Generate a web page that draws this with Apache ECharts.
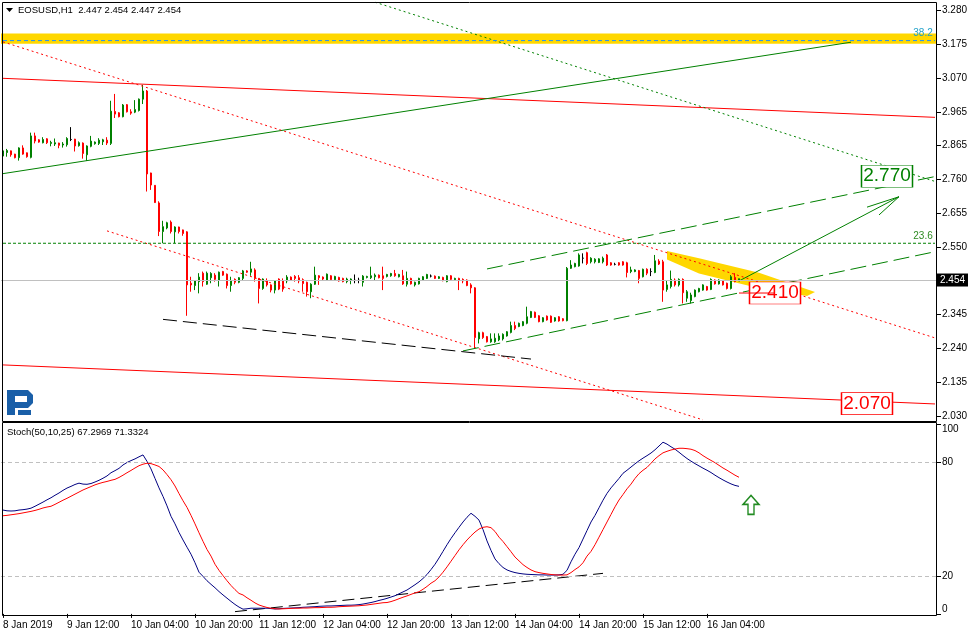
<!DOCTYPE html>
<html><head><meta charset="utf-8">
<script src="https://cdn.jsdelivr.net/npm/echarts@6/dist/echarts.min.js"></script>
<style>html,body{margin:0;padding:0;background:#fff}#c{width:975px;height:636px}</style>
</head><body><div id="c"></div>
<script>
// ---------- DATA ----------
const titleText = 'EOSUSD,H1  2.447 2.454 2.447 2.454';
const stochTitle = 'Stoch(50,10,25) 67.2969 71.3324';
const slotCount = 234;            // hourly slots incl. empty future space
const startHourUTC = Date.UTC(2019, 0, 8, 20);
const xTickEvery = 16;
const xTickLabels = ['8 Jan 2019','9 Jan 12:00','10 Jan 04:00','10 Jan 20:00','11 Jan 12:00','12 Jan 04:00',
  '12 Jan 20:00','13 Jan 12:00','14 Jan 04:00','14 Jan 20:00','15 Jan 12:00','16 Jan 04:00'];
const priceTicks = [3.280,3.175,3.070,2.965,2.865,2.760,2.655,2.550,2.345,2.240,2.135,2.030];
const stochTicks = [0,20,80,100];
const stochLevels = [80,20];
const currentPrice = 2.454;

// [open, high, low, close]
const ohlc = [
[2.831,2.850,2.829,2.847],[2.842,2.853,2.829,2.848],[2.847,2.848,2.829,2.835],[2.837,2.838,2.824,2.826],[2.826,2.858,2.817,2.856],
[2.856,2.864,2.835,2.837],[2.841,2.842,2.826,2.829],[2.827,2.903,2.824,2.893],[2.893,2.903,2.870,2.877],[2.881,2.883,2.872,2.874],
[2.872,2.889,2.870,2.882],[2.884,2.886,2.868,2.872],[2.870,2.878,2.861,2.873],[2.868,2.885,2.862,2.872],[2.871,2.872,2.855,2.864],
[2.865,2.874,2.857,2.868],[2.866,2.889,2.860,2.885],[2.882,2.920,2.877,2.882],[2.883,2.884,2.845,2.862],[2.863,2.876,2.860,2.872],
[2.871,2.873,2.823,2.839],[2.835,2.864,2.816,2.862],[2.861,2.893,2.858,2.877],[2.869,2.876,2.866,2.874],[2.870,2.886,2.865,2.880],
[2.875,2.884,2.865,2.881],[2.880,2.889,2.865,2.871],[2.870,3.001,2.865,2.969],[2.968,3.022,2.948,2.960],[2.964,2.966,2.950,2.952],
[2.952,2.991,2.950,2.988],[2.989,2.991,2.965,2.967],[2.967,2.975,2.958,2.963],[2.966,3.003,2.963,2.974],[2.971,3.008,2.968,3.006],
[3.006,3.050,2.991,3.031],[3.031,3.034,2.722,2.776],[2.779,2.780,2.727,2.742],[2.741,2.742,2.687,2.688],[2.687,2.692,2.585,2.599],
[2.599,2.632,2.563,2.614],[2.610,2.629,2.606,2.626],[2.628,2.633,2.593,2.599],[2.598,2.615,2.563,2.613],[2.613,2.614,2.593,2.599],
[2.604,2.605,2.586,2.593],[2.598,2.600,2.340,2.435],[2.440,2.460,2.414,2.435],[2.433,2.449,2.419,2.447],[2.445,2.471,2.409,2.459],
[2.471,2.476,2.430,2.445],[2.437,2.476,2.435,2.471],[2.457,2.474,2.440,2.470],[2.465,2.471,2.445,2.452],[2.450,2.476,2.430,2.474],
[2.476,2.478,2.463,2.465],[2.468,2.470,2.424,2.433],[2.433,2.460,2.414,2.447],[2.452,2.455,2.437,2.443],[2.443,2.459,2.440,2.457],
[2.455,2.481,2.450,2.478],[2.478,2.480,2.472,2.474],[2.474,2.506,2.463,2.484],[2.481,2.486,2.445,2.455],[2.455,2.456,2.378,2.424],
[2.424,2.455,2.420,2.453],[2.447,2.455,2.430,2.435],[2.435,2.437,2.412,2.419],[2.419,2.450,2.409,2.447],[2.453,2.455,2.419,2.422],
[2.447,2.455,2.414,2.422],[2.447,2.465,2.440,2.459],[2.459,2.461,2.447,2.450],[2.461,2.465,2.445,2.455],[2.457,2.465,2.440,2.447],
[2.451,2.455,2.414,2.439],[2.443,2.445,2.399,2.414],[2.414,2.440,2.394,2.437],[2.437,2.491,2.435,2.465],[2.463,2.465,2.435,2.457],
[2.459,2.461,2.450,2.453],[2.450,2.470,2.447,2.468],[2.463,2.465,2.449,2.451],[2.451,2.463,2.449,2.461],[2.458,2.460,2.445,2.447],
[2.455,2.457,2.443,2.445],[2.445,2.457,2.440,2.453],[2.450,2.455,2.437,2.453],[2.449,2.467,2.440,2.449],[2.449,2.457,2.440,2.449],
[2.443,2.465,2.430,2.462],[2.458,2.463,2.455,2.461],[2.457,2.491,2.453,2.463],[2.460,2.470,2.447,2.465],[2.465,2.467,2.455,2.457],
[2.463,2.491,2.419,2.455],[2.461,2.469,2.458,2.467],[2.463,2.472,2.460,2.470],[2.470,2.481,2.460,2.463],[2.460,2.469,2.458,2.467],
[2.463,2.481,2.435,2.438],[2.437,2.476,2.430,2.455],[2.455,2.457,2.436,2.438],[2.435,2.445,2.430,2.443],[2.438,2.457,2.436,2.455],
[2.450,2.462,2.448,2.460],[2.455,2.469,2.453,2.467],[2.462,2.467,2.458,2.462],[2.462,2.464,2.453,2.455],[2.455,2.462,2.453,2.460],
[2.458,2.460,2.446,2.448],[2.445,2.465,2.443,2.463],[2.463,2.465,2.450,2.452],[2.451,2.457,2.449,2.455],[2.455,2.457,2.419,2.448],
[2.452,2.455,2.440,2.447],[2.450,2.452,2.431,2.433],[2.435,2.440,2.409,2.426],[2.426,2.428,2.240,2.273],[2.269,2.291,2.255,2.288],
[2.288,2.291,2.269,2.273],[2.276,2.278,2.258,2.260],[2.260,2.286,2.257,2.269],[2.260,2.286,2.257,2.271],[2.266,2.286,2.262,2.278],
[2.269,2.286,2.264,2.283],[2.278,2.293,2.276,2.291],[2.289,2.322,2.286,2.310],[2.310,2.322,2.296,2.301],[2.307,2.319,2.305,2.317],
[2.310,2.324,2.308,2.322],[2.317,2.368,2.314,2.337],[2.335,2.355,2.333,2.353],[2.351,2.353,2.333,2.335],[2.340,2.342,2.320,2.322],
[2.322,2.336,2.320,2.334],[2.339,2.341,2.325,2.327],[2.339,2.341,2.318,2.320],[2.324,2.336,2.322,2.334],[2.337,2.339,2.322,2.324],
[2.331,2.333,2.323,2.325],[2.325,2.490,2.323,2.486],[2.486,2.511,2.484,2.496],[2.491,2.503,2.489,2.501],[2.493,2.532,2.491,2.527],
[2.517,2.532,2.501,2.517],[2.534,2.537,2.496,2.501],[2.506,2.520,2.501,2.517],[2.506,2.517,2.501,2.514],[2.504,2.517,2.502,2.515],
[2.506,2.522,2.501,2.517],[2.527,2.530,2.493,2.496],[2.503,2.505,2.494,2.496],[2.498,2.503,2.495,2.498],[2.503,2.505,2.494,2.496],
[2.506,2.508,2.494,2.496],[2.503,2.506,2.458,2.473],[2.476,2.491,2.471,2.481],[2.476,2.483,2.474,2.481],[2.479,2.481,2.440,2.455],
[2.460,2.485,2.458,2.483],[2.483,2.486,2.465,2.471],[2.476,2.486,2.462,2.476],[2.473,2.527,2.471,2.509],[2.508,2.514,2.496,2.499],
[2.506,2.512,2.383,2.419],[2.421,2.450,2.414,2.435],[2.430,2.479,2.424,2.452],[2.450,2.455,2.430,2.435],[2.435,2.455,2.430,2.452],
[2.452,2.455,2.378,2.411],[2.394,2.419,2.383,2.414],[2.387,2.411,2.378,2.404],[2.399,2.421,2.397,2.419],[2.414,2.426,2.412,2.424],
[2.419,2.437,2.417,2.435],[2.430,2.432,2.417,2.419],[2.421,2.455,2.419,2.452],[2.450,2.452,2.436,2.438],[2.438,2.452,2.436,2.450],
[2.448,2.450,2.433,2.435],[2.440,2.442,2.421,2.424],[2.424,2.465,2.421,2.460],[2.458,2.471,2.443,2.445],[2.447,2.454,2.447,2.454]
];

const stochMain = [
54.8,54.4,54.3,54.4,54.8,55.0,55.3,55.8,56.8,57.9,
59.0,60.2,61.3,62.6,63.8,65.2,66.4,67.3,68.3,69.0,
68.5,68.4,68.8,69.6,70.5,71.6,72.8,74.5,75.6,76.8,
78.6,79.9,80.9,81.8,82.9,83.9,80.5,76.5,71.5,66.5,
62.0,57.0,51.5,47.5,43.0,39.0,35.2,31.5,27.0,22.0,
19.8,17.5,15.6,13.8,11.8,10.0,8.3,6.6,5.0,3.6,
2.5,2.7,3.0,3.0,3.0,3.0,3.0,2.8,2.6,2.7,
2.9,3.0,3.1,3.2,3.3,3.5,3.6,3.7,3.8,4.0,
4.1,4.2,4.2,4.3,4.4,4.5,4.6,4.6,4.7,4.9,
5.2,5.6,6.0,6.5,7.1,7.6,8.2,8.9,9.6,10.6,
11.6,12.6,14.0,15.4,16.9,18.7,20.8,23.4,26.2,29.5,
33.0,36.5,39.8,42.8,45.7,48.5,51.0,53.1,51.5,49.5,
44.5,38.5,33.5,29.0,26.5,24.5,23.2,22.4,21.8,21.4,
21.1,20.9,20.8,20.7,20.6,20.6,20.5,20.5,20.5,20.6,
20.9,23.0,27.5,31.5,35.0,39.5,44.0,48.5,52.0,56.0,
60.0,63.6,66.5,69.0,71.5,74.2,75.8,77.5,79.2,80.8,
82.2,83.5,84.9,86.6,88.6,90.6,89.6,88.2,86.9,85.3,
83.6,82.0,80.6,79.3,78.1,76.9,75.8,74.6,73.2,71.9,
70.7,69.6,68.6,67.8,67.3];

const stochSignal = [
51.8,52.0,52.3,52.6,52.9,53.3,53.7,54.1,54.6,55.2,
55.9,56.4,56.8,57.8,58.9,60.0,61.0,62.1,63.2,64.3,
65.4,66.3,67.2,68.1,68.8,69.4,69.9,70.5,71.0,72.0,
73.2,74.5,75.7,77.0,78.2,79.0,79.5,79.3,78.6,77.8,
76.0,73.5,70.8,67.5,63.5,59.7,56.2,52.0,47.5,42.8,
38.3,34.0,30.5,26.2,23.0,20.2,17.5,15.0,12.8,10.8,
10.0,8.5,7.2,5.8,4.7,4.0,3.4,3.0,2.7,2.6,
2.7,2.8,2.9,3.0,3.0,3.1,3.1,3.2,3.3,3.3,
3.4,3.5,3.5,3.6,3.8,3.9,4.0,4.1,4.2,4.3,
4.5,4.7,5.0,5.3,5.6,5.9,6.0,6.5,7.2,8.0,
8.8,9.5,10.3,11.1,11.7,13.0,14.5,16.2,17.5,19.5,
22.0,24.8,27.8,30.8,33.8,36.5,39.0,41.2,43.2,44.8,
45.7,46.0,45.5,43.5,40.5,38.2,35.5,32.8,30.0,28.0,
26.0,24.5,23.2,22.3,21.8,21.4,21.1,20.8,20.6,20.5,
20.5,20.6,21.8,23.4,24.8,27.0,30.5,33.0,36.5,40.5,
44.5,48.5,52.5,56.5,60.1,63.0,66.0,68.5,71.5,74.0,
75.8,77.3,79.5,81.8,83.5,85.0,85.8,86.5,87.0,87.4,
87.4,87.2,86.9,86.2,85.0,83.5,82.2,81.0,79.8,78.4,
77.0,75.8,74.5,73.2,72.1];

// drawing objects: [barIndex, price]
const redChannelUpper = [[0,3.070],[233,2.950]];
const redChannelLower = [[0,2.189],[233,2.069]];
const greenTrendUp    = [[0,2.777],[212,3.181]];
const redDottedUpper  = [[0,3.182],[233,2.272]];
const redDottedLower  = [[26,2.601],[175,2.020]];
const greenDotted     = [[93,3.304],[233,2.753]];
const greenDashUpper  = [[121,2.484],[233,2.768]];
const greenDashLower  = [[115,2.232],[233,2.537]];
const blackSupport    = [[40,2.329],[132,2.207]];
const forecastLine    = [[184,2.447],[224,2.706]];
const forecastBarb1   = [[216,2.674],[224,2.706]];
const forecastBarb2   = [[219,2.650],[224,2.706]];
const targetLine      = [[184,2.410],[193,2.410]];
const fibBand = [3.176, 3.208];
const fib382 = 3.186, fib236 = 2.563;
const flagPolygon = [[165.5,2.539],[174.25,2.517],[189.25,2.472],[203,2.413],[200.5,2.401],[189.25,2.425],[174.25,2.470],[166.25,2.513]];
const labels = [
  {text:'2.410', at:[193,2.410], color:'#ff0000'},
  {text:'2.070', at:[216,2.070], color:'#ff0000'},
  {text:'2.770', at:[221,2.769], color:'#008000'}
];
const stochSupport = [[58,1.2],[150,21.4]];
const stochArrowAt = [187,57.5];

// ---------- CHART ----------
const FONT = '"Liberation Sans", Arial, sans-serif';
const categories = [];
for (let i = 0; i < slotCount; i++) {
  const d = new Date(startHourUTC + i * 3600000);
  categories.push(d.getUTCDate() + ' Jan ' + String(d.getUTCHours()).padStart(2,'0') + ':00');
}
const candleData = ohlc.map(r => [r[0], r[3], r[2], r[1]]);

function lineSeries(data, color, type, width, extra) {
  return Object.assign({
    type:'line', xAxisIndex:0, yAxisIndex:0, data:data, symbol:'none', silent:true,
    animation:false, z:4, lineStyle:{color:color, width:width||1, type:type||'solid'}
  }, extra||{});
}

const chart = echarts.init(document.getElementById('c'), null, {renderer:'canvas'});
const isTick = (i) => i % xTickEvery === 0 && (i / xTickEvery) < xTickLabels.length;
const LOGO = '#1a5fa8';

const option = {
  animation:false,
  textStyle:{fontFamily:FONT},
  title:[
    {text:titleText, left:18, top:5, padding:0, textStyle:{fontSize:9.5, fontWeight:'normal', color:'#000', fontFamily:FONT}},
    {text:stochTitle, left:7, top:427, padding:0, textStyle:{fontSize:9.5, fontWeight:'normal', color:'#000', fontFamily:FONT}}
  ],
  graphic:[
    {type:'polygon', shape:{points:[[6,8],[13,8],[9.5,12]]}, style:{fill:'#000'}},
    {type:'rect', shape:{x:7, y:390, width:8, height:25}, style:{fill:LOGO}},
    {type:'polygon', shape:{points:[[15,390],[28,390],[33,395],[33,403],[28,408],[15,408]]}, style:{fill:LOGO}},
    {type:'rect', shape:{x:15, y:396, width:12, height:6}, style:{fill:'#fff'}},
    {type:'rect', shape:{x:18, y:410, width:13, height:5}, style:{fill:LOGO}},
    {type:'rect', z:100, shape:{x:2.5, y:2.5, width:934, height:419}, style:{fill:null, stroke:'#000', lineWidth:1}},
    {type:'rect', z:100, shape:{x:2.5, y:422.5, width:934, height:193}, style:{fill:null, stroke:'#000', lineWidth:1}}
  ],
  grid:[
    {left:1, top:2, width:936, height:419, show:false},
    {left:1, top:423, width:936, height:192, show:false}
  ],
  xAxis:[
    {type:'category', gridIndex:0, data:categories, boundaryGap:true,
     axisLine:{show:false}, axisTick:{show:false}, axisLabel:{show:false}, splitLine:{show:false}},
    {type:'category', gridIndex:1, data:categories, boundaryGap:true,
     axisLine:{show:false},
     axisTick:{show:true, alignWithLabel:true, interval:(i)=>isTick(i), length:4, lineStyle:{color:'#000'}},
     axisLabel:{interval:(i)=>isTick(i), formatter:(v,i)=>xTickLabels[i/xTickEvery] || '', align:'left',
       fontSize:10, color:'#000', margin:5, fontFamily:FONT},
     splitLine:{show:false}}
  ],
  yAxis:[
    {type:'value', gridIndex:0, position:'right', min:2.0166, max:3.3046,
     axisLine:{show:false},
     axisTick:{show:true, customValues:priceTicks, length:4, lineStyle:{color:'#000'}},
     axisLabel:{customValues:priceTicks, formatter:(v)=>Number(v).toFixed(3), fontSize:10, color:'#000', margin:5, fontFamily:FONT},
     splitLine:{show:false}},
    {type:'value', gridIndex:1, position:'right', min:-0.58, max:100.74,
     axisLine:{show:false},
     axisTick:{show:true, customValues:stochTicks, length:4, lineStyle:{color:'#000'}},
     axisLabel:{customValues:stochTicks, fontSize:10, color:'#000', margin:5, fontFamily:FONT,
       formatter:(v)=> v===100 ? '{t|100}' : (v===0 ? '{b|0}' : '{n|'+v+'}'),
       rich:{t:{fontSize:10, padding:[10,0,0,0], fontFamily:FONT}, b:{fontSize:10, padding:[0,0,10,0], fontFamily:FONT}, n:{fontSize:10, fontFamily:FONT}}},
     splitLine:{show:false}}
  ],
  series:[
    { // yellow flag
      type:'custom', xAxisIndex:0, yAxisIndex:0, data:flagPolygon, silent:true, z:1,
      renderItem:(params, api) => {
        if (params.dataIndex !== 0) return null;
        return {type:'polygon', shape:{points:flagPolygon.map(p => api.coord(p))}, style:{fill:'#ffd700'}};
      }
    },
    {
      type:'candlestick', xAxisIndex:0, yAxisIndex:0, data:candleData, barWidth:2, z:3,
      itemStyle:{color:'#008000', color0:'#ff0000', borderColor:'#008000', borderColor0:'#ff0000', borderColorDoji:'#000000', borderWidth:1},
      markArea:{silent:true, itemStyle:{color:'#ffd700', opacity:1}, data:[[{yAxis:fibBand[0]},{yAxis:fibBand[1]}]]},
      markLine:{silent:true, symbol:'none', animation:false,
        lineStyle:{color:'#c0c0c0', type:'solid', width:1},
        label:{show:true, position:'end', distance:0, formatter:currentPrice.toFixed(3), color:'#fff', backgroundColor:'#000',
          padding:[2,3,1,3], fontSize:10, fontFamily:FONT},
        data:[{yAxis:currentPrice}]}
    },
    lineSeries(redChannelUpper, '#ff0000', 'solid', 1),
    lineSeries(redChannelLower, '#ff0000', 'solid', 1),
    lineSeries(greenTrendUp, '#008000', 'solid', 1),
    lineSeries(redDottedUpper, '#ff0000', [2,3], 1),
    lineSeries(redDottedLower, '#ff0000', [2,3], 1),
    lineSeries(greenDotted, '#008000', [2,3], 1),
    lineSeries(greenDashUpper, '#008000', [16,6], 1),
    lineSeries(greenDashLower, '#008000', [16,6], 1),
    lineSeries(blackSupport, '#000000', [14,6], 1),
    lineSeries([[0,fib382],[233,fib382]], '#1e90ff', [4,3], 1, {
      markPoint:{silent:true, symbol:'circle', symbolSize:0, data:[{coord:[230,fib382]}],
        label:{show:true, position:'top', distance:2, formatter:'38.2', color:'#1fa0c8', fontSize:10, fontFamily:FONT}}}),
    lineSeries([[0,fib236],[233,fib236]], '#008000', [3,2], 1, {
      markPoint:{silent:true, symbol:'circle', symbolSize:0, data:[{coord:[230,fib236]}],
        label:{show:true, position:'top', distance:2, formatter:'23.6', color:'#2e8b22', fontSize:10, fontFamily:FONT}}}),
    lineSeries(forecastLine, '#008000', 'solid', 1),
    lineSeries(forecastBarb1, '#008000', 'solid', 1),
    lineSeries(forecastBarb2, '#008000', 'solid', 1),
    lineSeries(targetLine, '#ff0000', 'solid', 1, {
      z:6,
      markPoint:{silent:true, symbol:'rect', symbolSize:[51,22],
        data: labels.map(l => ({coord:l.at, itemStyle:{color:'#fff', borderColor:l.color, borderWidth:1},
          label:{show:true, position:'inside', formatter:l.text, color:l.color, fontSize:19, fontFamily:FONT}}))}
    }),
    { type:'line', xAxisIndex:1, yAxisIndex:1, data:stochMain, symbol:'none', silent:true,
      lineStyle:{color:'#000080', width:1}, z:4,
      markLine:{silent:true, symbol:'none', label:{show:false}, lineStyle:{color:'#c0c0c0', type:[4,3], width:1},
        data: stochLevels.map(v => ({yAxis:v}))},
      markPoint:{silent:true, data:[{coord:stochArrowAt, symbol:'path://M8,0 L16,9 L11,9 L11,19 L5,19 L5,9 L0,9 Z',
        symbolSize:[16,19], itemStyle:{color:'#ffffff', borderColor:'#228b22', borderWidth:1.5}}], label:{show:false}}
    },
    { type:'line', xAxisIndex:1, yAxisIndex:1, data:stochSignal, symbol:'none', silent:true,
      lineStyle:{color:'#ff0000', width:1}, z:4 },
    { type:'line', xAxisIndex:1, yAxisIndex:1, data:stochSupport, symbol:'none', silent:true,
      lineStyle:{color:'#000', width:1, type:[12,6]}, z:3 }
  ]
};
chart.setOption(option);
</script>
</body></html>
